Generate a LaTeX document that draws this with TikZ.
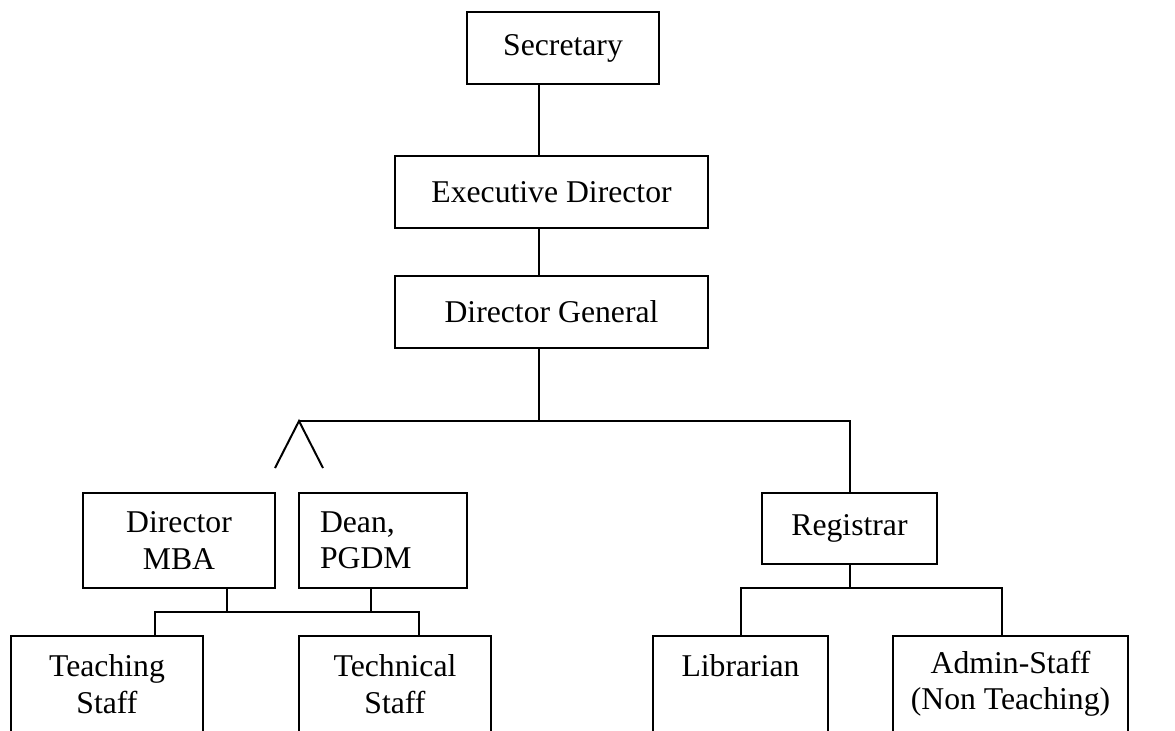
\documentclass[tikz,border=0pt]{standalone}
\usepackage{fontspec}
\setmainfont{Liberation Serif}
\tikzset{post/.style={draw, line width=0.75pt, inner sep=0pt, align=center, font=\fontsize{12}{13.8}\selectfont}}
\newcommand{\post}[7][]{\node[post,#1,minimum width={(#5-#3)*0.3786pt},minimum height={(#6-#4)*0.3786pt}] (#2) at ({(#3+#5)/2},{(#4+#6)/2}) {#7};}
\begin{document}
\begin{tikzpicture}[x=0.3786pt,y=-0.3786pt,line width=0.75pt]
    \useasboundingbox (0,0) rectangle (1175,730);
    \clip (0,0) rectangle (1175,730);
    % top of the chart
    \post{sec}{467}{12}{659}{84}{Secretary}
    \post{exd}{395}{156}{708}{228}{Executive Director}
    \post{dg}{395}{276}{708}{348}{Director General}
    % row2
    \post{dmba}{83}{493}{275}{588}{Director\\MBA}
    \post[align=left,text width=47.7pt]{dean}{299}{493}{467}{588}{Dean,\\PGDM}
    \post{reg}{762}{493}{937}{564}{Registrar}
    % row3 (cut off at the bottom)
    \post{tch}{11}{636}{203}{732}{Teaching\\Staff}
    \post{tec}{299}{636}{491}{732}{Technical\\Staff}
    \post{lib}{653}{636}{828}{732}{Librarian\\\phantom{Staff}}
    \post{adm}{893}{636}{1128}{732}{Admin-Staff\\(Non Teaching)}

    % joints
    \coordinate (spine) at (539,421);
    \coordinate (apex) at (299,421);
    \coordinate (capl) at (275,468);
    \coordinate (capr) at (323,468);
    \coordinate (mbaout) at (227,612);
    \coordinate (deanout) at (371,612);
    \coordinate (abus) at (155,612);
    \coordinate (bbus) at (419,612);
    \coordinate (lbus) at (741,588);
    \coordinate (rbus) at (1002,588);

    % connectors
    \draw (sec.south -| spine) -- (exd.north -| spine);
    \draw (exd.south -| spine) -- (dg.north -| spine);
    \draw (dg.south -| spine) -- (spine);
    \draw (capl) -- (apex) -- (capr);
    \draw (apex) -- (reg.north |- apex) -- (reg.north);
    \draw (dmba.south -| mbaout) -- (mbaout);
    \draw (dean.south -| deanout) -- (deanout);
    \draw (tch.north -| abus) -- (abus) -- (bbus) -- (tec.north -| bbus);
    \draw (reg.south) -- (reg.south |- lbus);
    \draw (lib.north -| lbus) -- (lbus) -- (rbus) -- (adm.north -| rbus);
\end{tikzpicture}
\end{document}
